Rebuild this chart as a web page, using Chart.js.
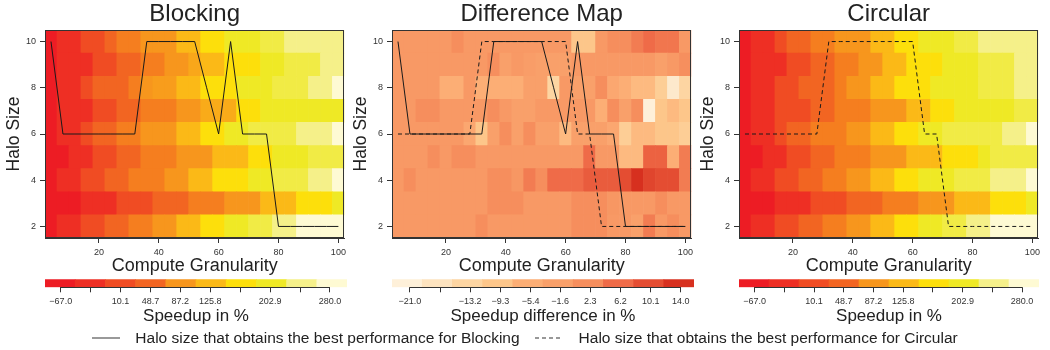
<!DOCTYPE html>
<html>
<head>
<meta charset="utf-8">
<script src="https://cdn.jsdelivr.net/npm/chart.js@4"></script>
<style>
  body { margin: 0; width: 1050px; height: 350px; background: #fff; position: relative; overflow: hidden;
         font-family: "Liberation Sans", Arial, Helvetica, sans-serif; }
  canvas { position: absolute; }
  #legend { position: absolute; left: 0; top: 329px; width: 1050px; height: 18px; line-height: 18px;
            display: flex; justify-content: center; align-items: center; font-size: 15.5px; color: #222; }
  #legend svg { display: block; }
</style>
</head>
<body>
<canvas id="blocking" width="350" height="280"></canvas>
<canvas id="difference" width="350" height="280"></canvas>
<canvas id="circular" width="350" height="280"></canvas>
<canvas id="blockingKey" width="350" height="54"></canvas>
<canvas id="differenceKey" width="350" height="54"></canvas>
<canvas id="circularKey" width="350" height="54"></canvas>
<div id="legend">
  <svg width="28" height="4" style="margin-right:15px"><line x1="0" y1="2" x2="28" y2="2" stroke="#777" stroke-width="1.5"/></svg>
  <span>Halo size that obtains the best performance for Blocking</span>
  <svg width="25" height="4" style="margin:0 19px 0 15px"><line x1="0" y1="2" x2="25" y2="2" stroke="#777" stroke-width="1.5" stroke-dasharray="4 3"/></svg>
  <span>Halo size that obtains the best performance for Circular</span>
</div>
<script>
const granularity = [4, 8, 12, 16, 20, 24, 28, 32, 36, 40, 44, 48, 52, 56, 60, 64, 68, 72, 76, 80, 84, 88, 92, 96, 100];
const haloSizes = [2, 3, 4, 5, 6, 7, 8, 9, 10];
const xTicks = [20, 40, 60, 80, 100];
const yTicks = [2, 4, 6, 8, 10];

// speedup in %, one row per halo size (2 .. 10), one value per granularity
const blockingSpeedup = [
  [-67, -28, -28, 10, 10, 49, 49, 68, 68, 87, 87, 126, 126, 164, 164, 203, 203, 215, 215, 241, 241, 280, 280, 280, 280],
  [-67, -67, -67, -28, -28, -28, 10, 10, 10, 49, 49, 49, 68, 68, 68, 87, 87, 87, 126, 126, 126, 164, 164, 164, 203],
  [-67, -28, -28, 10, 10, 49, 49, 68, 68, 68, 87, 87, 126, 126, 164, 164, 164, 203, 203, 215, 215, 215, 241, 241, 280],
  [-67, -67, -28, -28, 10, 10, 49, 49, 68, 68, 68, 87, 87, 87, 126, 126, 126, 164, 164, 203, 203, 203, 215, 215, 215],
  [-67, -28, -28, 10, 49, 49, 68, 68, 87, 87, 87, 126, 126, 164, 164, 203, 203, 215, 215, 215, 215, 241, 241, 241, 280],
  [-67, -28, -28, -28, 10, 10, 49, 49, 68, 68, 68, 87, 87, 110, 110, 110, 164, 164, 203, 203, 203, 203, 203, 203, 203],
  [-67, -28, -28, 10, 49, 49, 49, 68, 87, 95, 95, 126, 126, 164, 164, 164, 203, 203, 203, 215, 215, 215, 241, 241, 280],
  [-67, -28, -28, -28, 10, 10, 49, 49, 68, 68, 87, 87, 106, 126, 126, 164, 164, 164, 203, 203, 215, 215, 215, 241, 241],
  [-67, -28, -28, 10, 10, 49, 68, 68, 87, 87, 87, 126, 126, 164, 164, 203, 203, 203, 215, 215, 241, 241, 241, 241, 241],
];

const circularSpeedup = [
  [-67, -28, -28, 10, 10, 49, 49, 68, 68, 87, 87, 126, 126, 164, 164, 203, 203, 215, 215, 241, 241, 280, 280, 280, 280],
  [-67, -67, -67, -28, -28, -28, 10, 10, 10, 49, 49, 49, 68, 68, 68, 87, 87, 87, 126, 126, 126, 164, 164, 164, 203],
  [-67, -28, -28, 10, 10, 49, 49, 68, 68, 87, 87, 126, 126, 164, 164, 203, 203, 203, 215, 215, 215, 241, 241, 241, 280],
  [-67, -67, -28, -28, 10, 10, 49, 49, 68, 68, 68, 87, 87, 87, 126, 126, 126, 164, 164, 164, 203, 215, 215, 215, 215],
  [-67, -28, -28, 10, 49, 49, 68, 68, 68, 87, 87, 126, 126, 164, 164, 203, 203, 215, 215, 215, 215, 215, 241, 241, 280],
  [-67, -28, -28, 10, 10, 10, 49, 49, 68, 68, 68, 87, 87, 87, 126, 126, 164, 164, 203, 203, 203, 203, 203, 215, 215],
  [-67, -28, -28, 10, 10, 49, 49, 49, 68, 87, 87, 126, 126, 164, 164, 164, 203, 203, 203, 203, 215, 215, 215, 241, 241],
  [-67, -28, -28, -28, 10, 10, 49, 49, 68, 68, 87, 87, 126, 126, 164, 164, 164, 203, 203, 203, 215, 215, 215, 241, 241],
  [-67, -28, -28, 10, 49, 49, 68, 68, 87, 87, 87, 126, 126, 164, 164, 203, 203, 203, 215, 215, 241, 241, 241, 241, 241],
];

// speedup difference in %
const speedupDifference = [
  [0, 0, 0, 0, 0, 0, 0, 2.3, 0, 0, 0, 0, 0, 0, 0, 2.3, 2.3, 2.3, 0, 0, -1.6, 4.3, 0, 2.3, 0],
  [0, 0, 0, 0, 0, 0, 0, 0, 2.3, 2.3, 2.3, 0, 0, 0, 0, 2.3, 2.3, 2.3, 0.4, 0, 0, 0, 2.3, 0, 0],
  [0, 2.3, 0, 0, 0, 0, 0, 0, 2.3, 2.3, 0.4, 4.3, 2.3, 6.2, 6.2, 6.2, 8.2, 8.2, 8.2, 10.1, 14, 11.2, 10.1, 10.1, 4.3],
  [0, 0, 0, 2.3, 0, 2.3, 2.3, 0, 0, 0, 0, 0, 0, 0, 0, 0, 6.2, 0, 0, -7.4, -7.4, 7.4, 7.4, -5.4, 4.3],
  [0, 0, 0, 0, 0, 0, -3.5, -9.3, -1.6, 2.3, -1.6, 2.3, -1.6, -1.6, -7.4, -1.6, -1.6, -1.6, -3.5, -11.3, -7.4, -7.4, -9.3, -9.3, -11.3],
  [0, 0, 2.3, 2.3, 0, 0, 0, 0, 2.3, 0, -1.6, -1.6, 0, 0, 0, 0, 0, -5.4, 2.3, -1.6, 2.3, -21, -9.3, -7.4, -9.3],
  [0, 0, 0, 0, -5.4, -5.4, 0, -5.4, -5.4, -5.4, -5.4, -1.6, -1.6, -13.2, 0, -1.6, -1.6, 2.3, -3.5, -5.4, -7.4, -7.4, -11.3, -19, -13.2],
  [0, 0, 0, 0, 0, 0, 0, 0, 2, -1.6, 0, -1, -1.6, -1.6, -1.6, 0, 0, 0, 0, 0, 0, 0, -1.6, 0, 2],
  [0, 0, 0, 0, 0, 2.3, 0, 0, 0, 0, 0, 0, 0, 0, 0, -9.3, -9.3, 0, 2.3, 2.3, 4.3, 6.2, 5, 5, 0],
];

const bestHaloBlocking = [10, 6, 6, 6, 6, 6, 6, 6, 10, 10, 10, 10, 10, 8, 6, 10, 6, 6, 6, 2, 2, 2, 2, 2, 2];
const bestHaloCircular = [6, 6, 6, 6, 6, 6, 6, 10, 10, 10, 10, 10, 10, 10, 10, 6, 6, 2, 2, 2, 2, 2, 2, 2, 2];

const heatTicks = [-67.0, -28.4, 10.1, 48.7, 87.2, 125.8, 164.4, 202.9, 241.5, 280.0];
const heatTickLabels = ["\u221267.0", "", "10.1", "48.7", "87.2", "125.8", "", "202.9", "", "280.0"];
const heatColors = ["#ED1C24", "#EE2F24", "#F04C23", "#F26522", "#F7961D", "#FBB917", "#FDDF0B", "#EFE925", "#F5F08A", "#FEFAD3"];
const heatRange = [-87.3, 302];

const diffTicks = [-21.0, -17.1, -13.2, -9.3, -5.4, -1.6, 2.3, 6.2, 10.1, 14.0];
const diffTickLabels = ["\u221221.0", "", "\u221213.2", "\u22129.3", "\u22125.4", "\u22121.6", "2.3", "6.2", "10.1", "14.0"];
const diffColors = ["#FEF0D9", "#FDE3BF", "#FDD5A2", "#FDC68A", "#FCAE75", "#F9A06A", "#F68E5D", "#EF6B48", "#E44D32", "#D7301F"];
const diffRange = [-23.3, 15.7];

Chart.defaults.font.family = '"Liberation Sans", Arial, Helvetica, sans-serif';
Chart.defaults.color = "#333";

function rgb(hex) {
  return [1, 3, 5].map(i => parseInt(hex.slice(i, i + 2), 16));
}

function colorFor(v, ticks, colors) {
  if (v <= ticks[0]) return colors[0];
  for (let i = 0; i < ticks.length - 1; i++) {
    if (v <= ticks[i + 1]) {
      const t = (v - ticks[i]) / (ticks[i + 1] - ticks[i]);
      const a = rgb(colors[i]), b = rgb(colors[i + 1]);
      return "rgb(" + a.map((c, k) => Math.round(c + (b[k] - c) * t)).join(",") + ")";
    }
  }
  return colors[colors.length - 1];
}

const framePlugin = {
  id: "frame",
  afterDatasetsDraw(chart) {
    const { ctx, chartArea: a } = chart;
    ctx.save();
    ctx.strokeStyle = "#333";
    ctx.lineWidth = 1;
    ctx.strokeRect(Math.round(a.left) + 0.5, Math.round(a.top) + 0.5, Math.round(a.width) - 1, Math.round(a.height) - 1);
    ctx.restore();
  },
};

const keyAxisPlugin = {
  id: "keyAxis",
  afterDraw(chart) {
    const { ctx, chartArea: a } = chart;
    const x = chart.scales.x;
    const t = x.ticks;
    ctx.save();
    ctx.strokeStyle = "#333";
    ctx.lineWidth = 1;
    ctx.beginPath();
    ctx.moveTo(x.getPixelForValue(t[0].value), Math.round(a.bottom) + 0.5);
    ctx.lineTo(x.getPixelForValue(t[t.length - 1].value), Math.round(a.bottom) + 0.5);
    ctx.stroke();
    ctx.restore();
  },
};

function heatmap(id, left, width, title, values, ticks, colors, lines) {
  const canvas = document.getElementById(id);
  canvas.style.left = left - 45 + "px";
  canvas.style.top = "0px";

  const datasets = haloSizes.map((h, r) => ({
    type: "bar",
    order: 1,
    xAxisID: "x",
    yAxisID: "y",
    data: granularity.map(g => ({ x: g, y: [h - 0.5, h + 0.5] })),
    backgroundColor: values[r].map(v => colorFor(v, ticks, colors)),
    borderWidth: 0,
    grouped: false,
    barPercentage: 1,
    categoryPercentage: 1,
  }));
  lines.forEach(l => {
    datasets.push({
      type: "line",
      order: 0,
      xAxisID: "x",
      yAxisID: "y",
      data: granularity.map((g, i) => ({ x: g, y: l.data[i] })),
      borderColor: "#1a1a1a",
      borderWidth: 1,
      borderDash: l.dash,
      pointRadius: 0,
      tension: 0,
      fill: false,
    });
  });

  new Chart(canvas, {
    type: "bar",
    data: { datasets },
    plugins: [framePlugin],
    options: {
      responsive: false,
      animation: false,
      layout: { padding: { left: 0, right: 350 - 45 - width, top: 0, bottom: 0 } },
      plugins: {
        legend: { display: false },
        tooltip: { enabled: false },
      },
      scales: {
        x: {
          type: "linear",
          min: 2,
          max: 102,
          offset: false,
          afterBuildTicks: a => { a.ticks = xTicks.map(v => ({ value: v })); },
          afterFit: a => { a.height = 42; },
          grid: { offset: false, drawOnChartArea: false, tickLength: 5, color: "#333" },
          border: { color: "#333" },
          ticks: { font: { size: 9 }, padding: 4, maxRotation: 0, autoSkip: false },
          title: {
            display: true,
            text: "Compute Granularity",
            color: "#222",
            font: { size: 18 },
            padding: { top: 0, bottom: 3.5 },
          },
        },
        y: {
          type: "linear",
          min: 1.5,
          max: 10.5,
          afterBuildTicks: a => { a.ticks = yTicks.map(v => ({ value: v })); },
          afterFit: a => { a.width = 45; },
          grid: { drawOnChartArea: false, tickLength: 5, color: "#333" },
          border: { color: "#333" },
          ticks: { font: { size: 9 }, padding: 4 },
          title: {
            display: true,
            text: "Halo Size",
            color: "#222",
            font: { size: 17.5 },
            padding: { top: 3.6, bottom: 0 },
          },
        },
        // top axis only carries the panel title, centred over the plot
        x2: {
          type: "linear",
          position: "top",
          min: 2,
          max: 102,
          offset: false,
          afterFit: a => { a.height = 30; },
          grid: { display: false, offset: false },
          border: { display: false },
          ticks: { display: false },
          title: {
            display: true,
            text: title,
            color: "#222",
            font: { size: 24 },
            padding: { top: 0.3, bottom: 0 },
          },
        },
      },
    },
  });
}

function colorKey(id, left, width, label, range, ticks, tickLabels, colors) {
  const canvas = document.getElementById(id);
  canvas.style.left = left - 45 + "px";
  canvas.style.top = "276px";
  const step = (range[1] - range[0]) / colors.length;

  new Chart(canvas, {
    type: "bar",
    data: {
      datasets: [{
        data: colors.map((c, i) => ({ x: [range[0] + i * step, range[0] + (i + 1) * step], y: "key" })),
        backgroundColor: colors,
        borderWidth: 0,
        grouped: false,
        barPercentage: 1,
        categoryPercentage: 1,
      }],
    },
    plugins: [keyAxisPlugin],
    options: {
      responsive: false,
      animation: false,
      indexAxis: "y",
      layout: { padding: { left: 45, right: 350 - 45 - width, top: 3.3, bottom: 0 } },
      plugins: { legend: { display: false }, tooltip: { enabled: false } },
      scales: {
        y: { type: "category", labels: ["key"], display: false },
        x: {
          type: "linear",
          position: "bottom",
          min: range[0],
          max: range[1],
          afterBuildTicks: a => { a.ticks = ticks.map(v => ({ value: v })); },
          afterFit: a => { a.height = 42.7; },
          border: { display: false },
          grid: { drawOnChartArea: false, tickLength: 5, color: "#333" },
          ticks: {
            font: { size: 9 },
            padding: 3.6,
            autoSkip: false,
            maxRotation: 0,
            callback: (v, i) => tickLabels[i],
          },
          title: {
            display: true,
            text: label,
            color: "#222",
            font: { size: 17 },
            padding: { top: 0, bottom: 3.4 },
          },
        },
      },
    },
  });
}

const solid = { data: bestHaloBlocking, dash: [] };
const dashed = { data: bestHaloCircular, dash: [4, 3] };

heatmap("blocking", 45, 302, "Blocking", blockingSpeedup, heatTicks, heatColors, [solid]);
heatmap("difference", 392, 301, "Difference Map", speedupDifference, diffTicks, diffColors, [solid, dashed]);
heatmap("circular", 739, 300, "Circular", circularSpeedup, heatTicks, heatColors, [dashed]);

colorKey("blockingKey", 45, 302, "Speedup in %", heatRange, heatTicks, heatTickLabels, heatColors);
colorKey("differenceKey", 392, 302, "Speedup difference in %", diffRange, diffTicks, diffTickLabels, diffColors);
colorKey("circularKey", 739, 300, "Speedup in %", heatRange, heatTicks, heatTickLabels, heatColors);
</script>
</body>
</html>
